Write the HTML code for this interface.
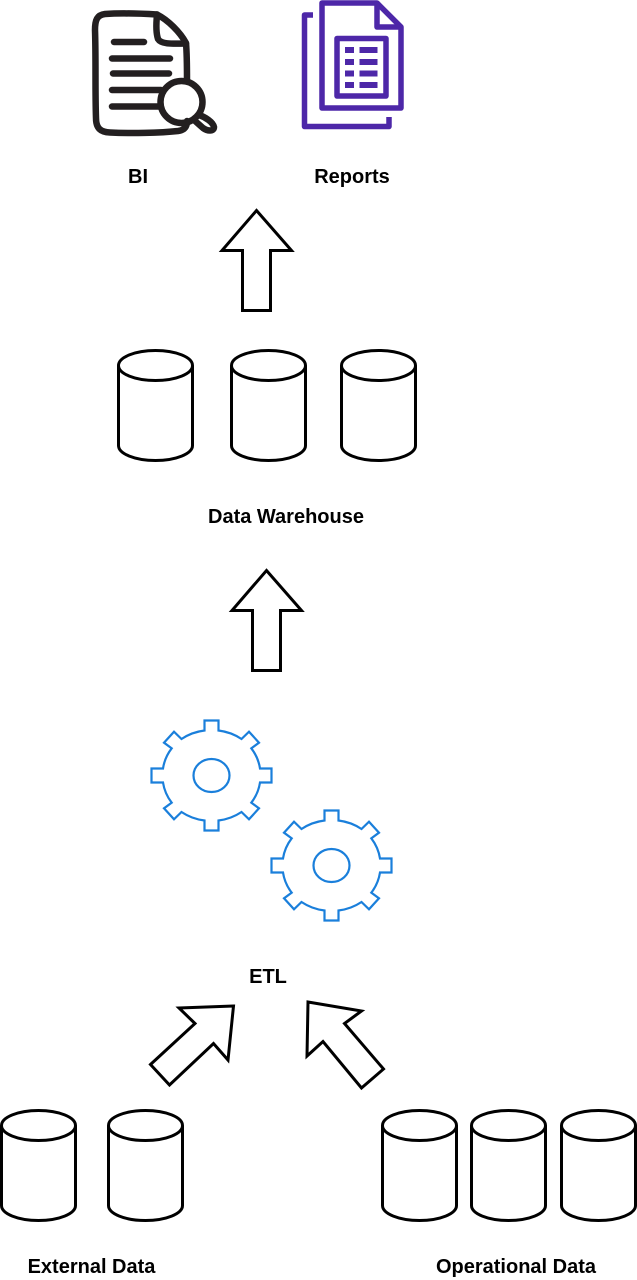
<!DOCTYPE html>
<html>
<head>
<meta charset="utf-8">
<style>
html,body{margin:0;padding:0;background:#fff;width:637px;height:1280px;overflow:hidden}
svg{display:block}
text{font-family:"Liberation Sans",sans-serif;font-weight:bold;font-size:20px;fill:#000;text-anchor:middle}
</style>
</head>
<body>
<svg width="637" height="1280" viewBox="0 0 637 1280" xmlns="http://www.w3.org/2000/svg">
<defs>
<g id="cyl" fill="#fff" stroke="#000" stroke-width="3">
<path d="M0 15V95C0 103.3 16.6 110 37 110S74 103.3 74 95V15"/>
<ellipse cx="37" cy="15" rx="37" ry="15"/>
</g>
<g id="gear" fill="none" stroke="#1a7fdb" stroke-width="2.2">
<path d="M-7 -55H7V-45A50 46 0 0 1 30 -36.5L37.5 -43.8L47.5 -32.8L39.8 -27.2A50 46 0 0 1 48.5 -7H60V7H48.5A50 46 0 0 1 39.8 27.2L47.5 32.8L37.5 43.8L30 36.5A50 46 0 0 1 7 45V55H-7V45A50 46 0 0 1 -30 36.5L-37.5 43.8L-47.5 32.8L-39.8 27.2A50 46 0 0 1 -48.5 7H-60V-7H-48.5A50 46 0 0 1 -39.8 -27.2L-47.5 -32.8L-37.5 -43.8L-30 -36.5A50 46 0 0 1 -7 -45Z"/>
<ellipse cx="0" cy="0" rx="18" ry="16.5"/>
</g>
</defs>

<!-- BI icon -->
<g fill="none" stroke="#231f20" stroke-width="6.5" stroke-linecap="round" stroke-linejoin="round">
<path d="M157 14.500C140 13.500 120 13 105 14C97 15 95 20 95 30C96 60 95 90 96 118C96 128 100 132 110 132.500C130 133.500 160 133 178 131C185 130 187 126 187 121"/>
<path d="M157 14.500C168 20 180 32 186 43C187 55 187 68 187 81"/>
<path d="M157 15C156 25 156 33 158 39C161 44 170 44 186 43.500"/>
<path d="M114 42H144"/>
<path d="M112 58.500H170"/>
<path d="M113 73.500H169"/>
<path d="M112 90H161"/>
<path d="M112 106.500H160"/>
<ellipse cx="181.500" cy="102" rx="21" ry="21"/>
<path d="M199 115C205 117 213 122 214 127C214 132 207 131 203 128L194 120"/>
</g>

<!-- Reports icon -->
<g fill="none" stroke="#4d27a8" stroke-width="5.5" stroke-linejoin="round">
<path d="M322 3H377L401 27V108H322Z"/>
<path d="M377 3V27H401"/>
<path d="M313 15H304.500V126.500H389V117"/>
<rect x="337" y="38.500" width="49" height="57.500"/>
</g>
<g fill="#4d27a8">
<rect x="345" y="47" width="9" height="6"/><rect x="359.500" y="47" width="18" height="6"/>
<rect x="345" y="59" width="9" height="6"/><rect x="359.500" y="59" width="18" height="6"/>
<rect x="345" y="70.500" width="9" height="6"/><rect x="359.500" y="70.500" width="18" height="6"/>
<rect x="345" y="82" width="9" height="6"/><rect x="359.500" y="82" width="18" height="6"/>
</g>

<text x="138" y="183">BI</text>
<text x="352" y="183">Reports</text>

<!-- Arrows -->
<g fill="#fff" stroke="#000" stroke-width="3" stroke-miterlimit="10">
<path d="M256.500 210.500L291.500 250.500H270.500V310.500H242.500V250.500H222Z"/>
<path d="M266.500 570.500L301.500 610.500H280.500V670.500H252.500V610.500H232Z"/>
<path d="M233.500 1006L179 1008L195 1023.500L150.500 1064.500L169.500 1085L213.500 1043.500L228 1060Z"/>
<path d="M308 1002L361.500 1011L344.500 1023.500L383.500 1069L361.500 1088L323 1041.500L307 1056Z"/>
</g>

<!-- Data warehouse cylinders -->
<use href="#cyl" x="118.500" y="350.500"/>
<use href="#cyl" x="231.500" y="350.500"/>
<use href="#cyl" x="341.500" y="350.500"/>
<text x="286" y="523">Data Warehouse</text>

<!-- Gears -->
<use href="#gear" x="211.500" y="775.500"/>
<use href="#gear" x="331.500" y="865.500"/>
<text x="268" y="983">ETL</text>

<!-- Source cylinders -->
<use href="#cyl" x="1.500" y="1110.500"/>
<use href="#cyl" x="108.500" y="1110.500"/>
<use href="#cyl" x="382.500" y="1110.500"/>
<use href="#cyl" x="471.500" y="1110.500"/>
<use href="#cyl" x="561.500" y="1110.500"/>
<text x="91.500" y="1273">External Data</text>
<text x="516" y="1273">Operational Data</text>
</svg>
</body>
</html>
